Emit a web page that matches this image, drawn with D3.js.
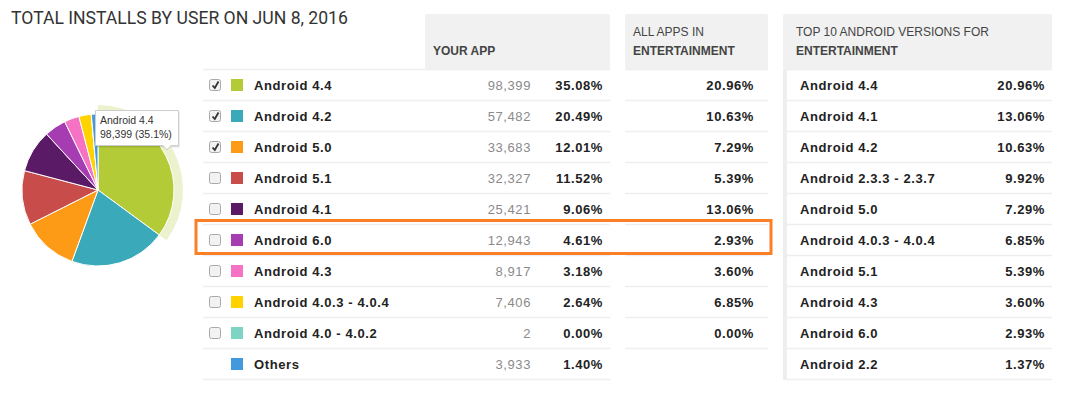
<!DOCTYPE html>
<html>
<head>
<meta charset="utf-8">
<script src="https://cdn.jsdelivr.net/npm/d3@7"></script>
<style>
  html, body { margin: 0; padding: 0; background: #fff; }
  svg { display: block; }
</style>
</head>
<body>
<main></main>
<script>
const versions = ["Android 4.4", "Android 4.2", "Android 5.0", "Android 5.1", "Android 4.1",
  "Android 6.0", "Android 4.3", "Android 4.0.3 - 4.0.4", "Android 4.0 - 4.0.2", "Others"];
const installs = [98399, 57482, 33683, 32327, 25421, 12943, 8917, 7406, 2, 3933];
const appShares = [35.08, 20.49, 12.01, 11.52, 9.06, 4.61, 3.18, 2.64, 0.00, 1.40];
const categoryShares = [20.96, 10.63, 7.29, 5.39, 13.06, 2.93, 3.60, 6.85, 0.00, null];
const checked = [true, true, true, false, false, false, false, false, false, null];
const sliceColors = ["#b3cb37", "#3aa9b9", "#fd9a16", "#c84c4a", "#5b1a65",
  "#a63cb1", "#f672c4", "#ffd200", "#7dd4c3", "#4499dd"];

const topVersions = ["Android 4.4", "Android 4.1", "Android 4.2", "Android 2.3.3 - 2.3.7",
  "Android 5.0", "Android 4.0.3 - 4.0.4", "Android 5.1", "Android 4.3", "Android 6.0", "Android 2.2"];
const topShares = [20.96, 13.06, 10.63, 9.92, 7.29, 6.85, 5.39, 3.60, 2.93, 1.37];

const W = 1069, H = 396;
const svg = d3.select("main").append("svg").attr("width", W).attr("height", H);

const color = d3.scaleOrdinal().domain(versions).range(sliceColors);
const rowY = d3.scaleBand().domain(d3.range(versions.length)).range([69.5, 379.5]);
const rowY2 = d3.scaleBand().domain(d3.range(topVersions.length)).range([69.5, 379.5]);
const fmtInt = d3.format(",");
const fmtPct = (v) => d3.format(".2f")(v) + "%";

// Title
svg.append("text")
  .attr("x", 11).attr("y", 24)
  .attr("font-family", "Roboto")
  .attr("font-size", 17.6)
  .attr("fill", "#333")
  .text("TOTAL INSTALLS BY USER ON JUN 8, 2016");

// Header boxes
const headers = [
  { x: 425, w: 185, tx: 433, lines: [["", false], ["YOUR APP", true]] },
  { x: 625, w: 143, tx: 633, lines: [["ALL APPS IN", false], ["ENTERTAINMENT", true]] },
  { x: 783, w: 269, tx: 796, lines: [["TOP 10 ANDROID VERSIONS FOR", false], ["ENTERTAINMENT", true]] }
];
const hg = svg.append("g").selectAll("g").data(headers).join("g");
hg.append("rect")
  .attr("x", (d) => d.x).attr("y", 14)
  .attr("width", (d) => d.w).attr("height", 55)
  .attr("rx", 2)
  .attr("fill", "#f1f1f1");
hg.each(function (d) {
  d3.select(this).selectAll("text").data(d.lines).join("text")
    .attr("x", d.tx)
    .attr("y", (l, i) => 36 + i * 19)
    .attr("font-family", "Liberation Sans, Arial")
    .attr("font-size", 12)
    .attr("font-weight", (l) => (l[1] ? "bold" : "normal"))
    .attr("fill", "#444")
    .text((l) => l[0]);
});

// Row separators
const seps = svg.append("g").attr("stroke", "#eeeeee").attr("stroke-width", 1.5);
const bottom = (scale, i, n) => (i < n ? scale(i) : scale(i - 1) + scale.bandwidth());
seps.selectAll("line.l").data(d3.range(versions.length + 1)).join("line")
  .attr("x1", 203).attr("x2", 610)
  .attr("y1", (i) => bottom(rowY, i, versions.length))
  .attr("y2", (i) => bottom(rowY, i, versions.length));
seps.selectAll("line.m").data(d3.range(versions.length)).join("line")
  .attr("x1", 625).attr("x2", 768)
  .attr("y1", (i) => rowY(i)).attr("y2", (i) => rowY(i));
seps.selectAll("line.r").data(d3.range(topVersions.length + 1)).join("line")
  .attr("x1", 787).attr("x2", 1052)
  .attr("y1", (i) => bottom(rowY2, i, topVersions.length))
  .attr("y2", (i) => bottom(rowY2, i, topVersions.length));

// Gray strip on left of right panel
svg.append("rect")
  .attr("x", 783).attr("y", 69)
  .attr("width", 4).attr("height", 311)
  .attr("fill", "#eeeeee");

// Left table rows
const rows = svg.append("g").selectAll("g").data(versions).join("g")
  .attr("transform", (d, i) => `translate(0,${rowY(i) + rowY.bandwidth() / 2})`);

rows.filter((d, i) => checked[i] !== null).append("rect")
  .attr("x", 209.5).attr("y", -5.5)
  .attr("width", 11).attr("height", 11)
  .attr("rx", 2)
  .attr("fill", "#f2f2f2")
  .attr("stroke", "#a9a9a9");
rows.filter((d, i) => checked[i] === true).append("path")
  .attr("d", "M212.5,0.5 L214.8,3 L218.5,-3.5")
  .attr("fill", "none")
  .attr("stroke", "#333")
  .attr("stroke-width", 1.8);

rows.append("rect")
  .attr("x", 231).attr("y", -6)
  .attr("width", 12).attr("height", 12)
  .attr("fill", (d) => color(d));

const txt = (sel) => sel
  .attr("dy", "0.35em")
  .attr("font-family", "Liberation Sans, Arial")
  .attr("font-size", 13)
  .attr("letter-spacing", 0.6);

rows.append("text").call(txt)
  .attr("x", 254)
  .attr("font-weight", "bold")
  .attr("fill", "#222")
  .text((d) => d);
rows.append("text").call(txt)
  .attr("x", 531).attr("text-anchor", "end")
  .attr("fill", "#8a8a8a")
  .text((d, i) => fmtInt(installs[i]));
rows.append("text").call(txt)
  .attr("x", 603).attr("text-anchor", "end")
  .attr("font-weight", "bold")
  .attr("fill", "#222")
  .text((d, i) => fmtPct(appShares[i]));
rows.filter((d, i) => categoryShares[i] !== null).append("text").call(txt)
  .attr("x", 754).attr("text-anchor", "end")
  .attr("font-weight", "bold")
  .attr("fill", "#222")
  .text((d) => fmtPct(categoryShares[versions.indexOf(d)]));

// Right table rows
const rows2 = svg.append("g").selectAll("g").data(topVersions).join("g")
  .attr("transform", (d, i) => `translate(0,${rowY2(i) + rowY2.bandwidth() / 2})`);
rows2.append("text").call(txt)
  .attr("x", 800)
  .attr("font-weight", "bold")
  .attr("fill", "#222")
  .text((d) => d);
rows2.append("text").call(txt)
  .attr("x", 1045).attr("text-anchor", "end")
  .attr("font-weight", "bold")
  .attr("fill", "#222")
  .text((d, i) => fmtPct(topShares[i]));

// Highlight box around Android 6.0
const hi = versions.indexOf("Android 6.0");
svg.append("rect")
  .attr("x", 196).attr("y", rowY(hi) - 4)
  .attr("width", 575).attr("height", rowY.bandwidth() + 2)
  .attr("fill", "none")
  .attr("stroke", "#fb7f24")
  .attr("stroke-width", 3);

// Pie
const cx = 98, cy = 190, r = 76;
const pie = d3.pie().sort(null).value((d) => d.value);
const arcs = pie(versions.map((v, i) => ({ name: v, value: installs[i] })));
const arc = d3.arc().innerRadius(0).outerRadius(r);
const pg = svg.append("g").attr("transform", `translate(${cx},${cy})`);

// Halo for hovered slice
pg.append("path")
  .attr("d", d3.arc().innerRadius(r).outerRadius(r + 9)(arcs[0]))
  .attr("fill", color(versions[0]))
  .attr("fill-opacity", 0.25);

pg.selectAll("path.slice").data(arcs).join("path")
  .attr("class", "slice")
  .attr("d", arc)
  .attr("fill", (d) => color(d.data.name))
  .attr("stroke", "#fff")
  .attr("stroke-width", 1);

// Tooltip
const tip = svg.append("g").attr("transform", "translate(95,110)");
tip.append("rect")
  .attr("x", 1.5).attr("y", 1.5)
  .attr("width", 83).attr("height", 36)
  .attr("fill", "rgba(0,0,0,0.12)");
tip.append("path")
  .attr("d", "M0.5,0.5 H83.5 V35.5 H76 L72,40 L68,35.5 H0.5 Z")
  .attr("fill", "#fff")
  .attr("stroke", "#ccc");
tip.selectAll("text").data([versions[0], `${fmtInt(installs[0])} (${d3.format(".1f")(appShares[0])}%)`])
  .join("text")
  .attr("x", 5).attr("y", (d, i) => 14 + i * 14)
  .attr("font-family", "Liberation Sans, Arial")
  .attr("font-size", 10.5)
  .attr("fill", "#333")
  .text((d) => d);
</script>
</body>
</html>
